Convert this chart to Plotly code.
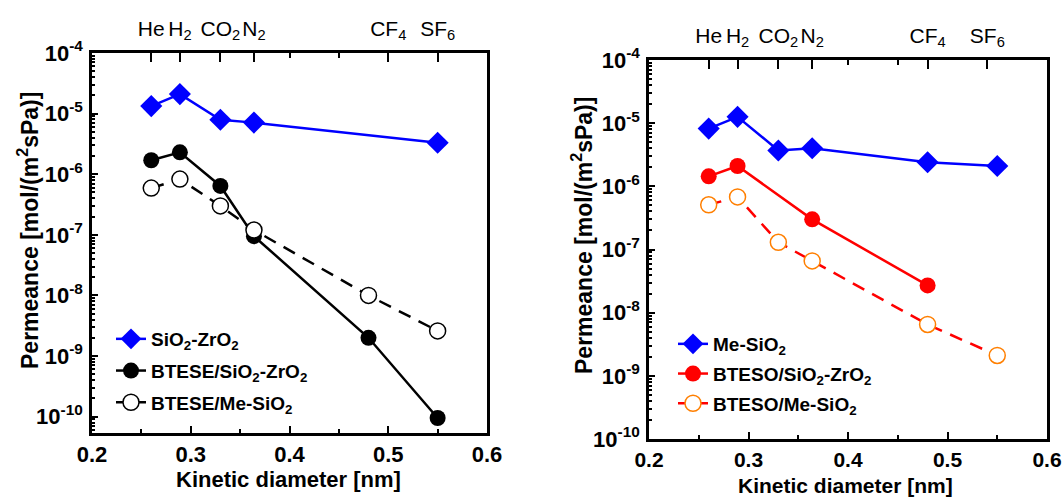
import plotly.graph_objects as go

# ---------------- data ----------------
gas_names = ["He", "H<sub>2</sub>", "CO<sub>2</sub>", "N<sub>2</sub>", "CF<sub>4</sub>", "SF<sub>6</sub>"]
gas_top_left = [0.26, 0.289, 0.33, 0.364, 0.50, 0.55]
gas_top_right = [0.26, 0.289, 0.33, 0.364, 0.48, 0.54]

# Left panel
l_sz_x = [0.26, 0.289, 0.33, 0.364, 0.55]
l_sz_y = [1.33e-5, 2.1e-5, 7.9e-6, 7.1e-6, 3.3e-6]
l_btese_sz_x = [0.26, 0.289, 0.33, 0.364, 0.48, 0.55]
l_btese_sz_y = [1.7e-6, 2.3e-6, 6.4e-7, 9.5e-8, 2.0e-9, 9.5e-11]
l_btese_me_x = [0.26, 0.289, 0.33, 0.364, 0.48, 0.55]
l_btese_me_y = [5.9e-7, 8.3e-7, 3.0e-7, 1.2e-7, 1.0e-8, 2.6e-9]

# Right panel
r_me_x = [0.26, 0.289, 0.33, 0.364, 0.48, 0.55]
r_me_y = [8.2e-6, 1.26e-5, 3.7e-6, 4.0e-6, 2.4e-6, 2.1e-6]
r_bteso_sz_x = [0.26, 0.289, 0.364, 0.48]
r_bteso_sz_y = [1.44e-6, 2.1e-6, 3.0e-7, 2.7e-8]
r_bteso_me_x = [0.26, 0.289, 0.33, 0.364, 0.48, 0.55]
r_bteso_me_y = [5.1e-7, 6.8e-7, 1.3e-7, 6.6e-8, 6.5e-9, 2.1e-9]

exps = [-4, -5, -6, -7, -8, -9, -10]
x_title = "<b>Kinetic diameter [nm]</b>"
y_title = "<b>Permeance [mol/(m<sup>2</sup>sPa)]</b>"
FONT = "Liberation Sans, Arial, sans-serif"

fig = go.Figure()

def add(x, y, name, xa, ya, leg, color, symbol, msize, fill, dash="solid", mline=None):
    fig.add_trace(go.Scatter(
        x=x, y=y, name=name, xaxis=xa, yaxis=ya, legend=leg, legendgroup=name,
        mode="lines+markers",
        line=dict(color=color, width=2.5, dash=dash),
        marker=dict(symbol=symbol, size=msize, color=fill,
                    line=dict(color=mline if mline else fill, width=1.5 if mline else 0)),
    ))

add(l_sz_x, l_sz_y, "<b>SiO<sub>2</sub>-ZrO<sub>2</sub></b>", "x", "y", "legend", "#0000FF", "diamond", 17, "#0000FF")
add(l_btese_sz_x, l_btese_sz_y, "<b>BTESE/SiO<sub>2</sub>-ZrO<sub>2</sub></b>", "x", "y", "legend", "black", "circle", 16, "black")
add(l_btese_me_x, l_btese_me_y, "<b>BTESE/Me-SiO<sub>2</sub></b>", "x", "y", "legend", "black", "circle", 16, "white", dash="13px,9px", mline="black")

add(r_me_x, r_me_y, "<b>Me-SiO<sub>2</sub></b>", "x2", "y2", "legend2", "#0000FF", "diamond", 17, "#0000FF")
add(r_bteso_sz_x, r_bteso_sz_y, "<b>BTESO/SiO<sub>2</sub>-ZrO<sub>2</sub></b>", "x2", "y2", "legend2", "#FF0000", "circle", 16, "#FF0000")
add(r_bteso_me_x, r_bteso_me_y, "<b>BTESO/Me-SiO<sub>2</sub></b>", "x2", "y2", "legend2", "#FF0000", "circle", 16, "white", dash="13px,9px", mline="#FF7F00")

W, H = 1064, 497
def dom_x(a, b):
    return [a / W, b / W]
def dom_y(top, bot):
    return [(H - bot) / H, (H - top) / H]

xtickvals = [0.2, 0.3, 0.4, 0.5, 0.6]
xticktext = ["<b>%.1f</b>" % v for v in xtickvals]
ytickvals = [10.0 ** e for e in exps]
yticktext = ["<b>10<sup>%d</sup></b>" % e for e in exps]
yminor = [m * 10.0 ** e for e in range(-11, -4) for m in range(2, 10)]

def xaxis_cfg(domain, anchor, fsize):
    return dict(domain=domain, anchor=anchor, range=[0.2, 0.6], showgrid=False, zeroline=False,
                automargin=False,
                showline=True, linewidth=2.5, linecolor="black", mirror=True,
                ticks="inside", ticklen=7, tickwidth=2, tickcolor="black",
                tickvals=xtickvals, ticktext=xticktext, ticklabelstandoff=0,
                minor=dict(tickvals=[0.25, 0.35, 0.45, 0.55], ticks="inside", ticklen=4, tickwidth=2, tickcolor="black"),
                tickfont=dict(family=FONT, size=fsize, color="black"))

def yaxis_cfg(domain, anchor, rng):
    return dict(domain=domain, anchor=anchor, type="log", range=rng, showgrid=False, zeroline=False,
                automargin=False,
                showline=True, linewidth=2.5, linecolor="black", mirror=True,
                ticks="inside", ticklen=6, tickwidth=2, tickcolor="black",
                tickvals=ytickvals, ticktext=yticktext, ticklabelstandoff=2,
                minor=dict(tickvals=yminor, ticks="inside", ticklen=3, tickwidth=1.5, tickcolor="black"),
                tickfont=dict(family=FONT, size=22, color="black"))

def top_cfg(domain, over, anchor, vals):
    return dict(domain=domain, overlaying=over, anchor=anchor, side="top", range=[0.2, 0.6],
                showgrid=False, zeroline=False, showline=False, automargin=False,
                ticks="inside", ticklen=9, tickwidth=2, tickcolor="black",
                tickvals=vals, ticktext=gas_names, ticklabelstandoff=12, tickangle=0,
                minor=dict(tickvals=[0.4, 0.45], ticks="inside", ticklen=5, tickwidth=1.5, tickcolor="black"),
                tickfont=dict(family=FONT, size=21, color="black"))

xl = dom_x(92, 487)
xr = dom_x(649, 1047)
yl = dom_y(53, 433)
yr = dom_y(60, 439)

ytitle_font = dict(family=FONT, size=23, color="black")
annotations = [
    dict(text=x_title, x=288 / W, y=(H - 479) / H, xref="paper", yref="paper", showarrow=False,
         xanchor="center", yanchor="middle", font=dict(family=FONT, size=22, color="black"), borderpad=0),
    dict(text=x_title, x=845 / W, y=(H - 485) / H, xref="paper", yref="paper", showarrow=False,
         xanchor="center", yanchor="middle", font=dict(family=FONT, size=21, color="black"), borderpad=0),
    dict(text=y_title, x=28 / W, y=(H - 231) / H, xref="paper", yref="paper", showarrow=False,
         xanchor="center", yanchor="middle", textangle=-90, font=ytitle_font),
    dict(text=y_title, x=582 / W, y=(H - 236) / H, xref="paper", yref="paper", showarrow=False,
         xanchor="center", yanchor="middle", textangle=-90, font=ytitle_font),
]

fig.update_layout(
    width=W, height=H, autosize=False,
    margin=dict(l=0, r=0, t=0, b=0),
    paper_bgcolor="white", plot_bgcolor="white",
    font=dict(family=FONT, color="black"),
    xaxis=xaxis_cfg(xl, "y", 22),
    yaxis=yaxis_cfg(yl, "x", [-10.27, -4]),
    xaxis2=xaxis_cfg(xr, "y2", 21),
    yaxis2=yaxis_cfg(yr, "x2", [-10, -4]),
    xaxis3=top_cfg(xl, "x", "y", gas_top_left),
    xaxis4=top_cfg(xr, "x2", "y2", gas_top_right),
    annotations=annotations,
    legend=dict(x=111 / W, y=(H - 320) / H, xanchor="left", yanchor="top", bgcolor="rgba(0,0,0,0)",
                font=dict(family=FONT, size=19, color="black"), tracegroupgap=4, itemwidth=30),
    legend2=dict(x=673 / W, y=(H - 325) / H, xanchor="left", yanchor="top", bgcolor="rgba(0,0,0,0)",
                 font=dict(family=FONT, size=19, color="black"), tracegroupgap=2, itemwidth=30),
    showlegend=True,
)
# invisible anchor traces to activate top axes
fig.add_trace(go.Scatter(x=[0.3], y=[1e-5], xaxis="x3", yaxis="y", mode="markers",
                         marker=dict(opacity=0), showlegend=False, hoverinfo="skip"))
fig.add_trace(go.Scatter(x=[0.3], y=[1e-5], xaxis="x4", yaxis="y2", mode="markers",
                         marker=dict(opacity=0), showlegend=False, hoverinfo="skip"))

fig.write_html("out.html")
